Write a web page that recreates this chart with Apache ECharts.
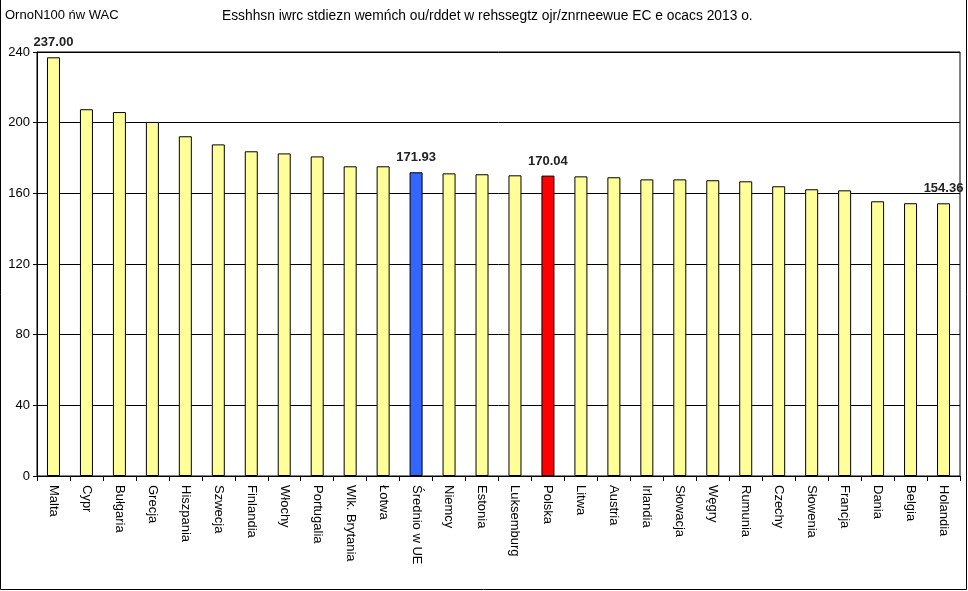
<!DOCTYPE html>
<html><head><meta charset="utf-8">
<script src="https://cdn.jsdelivr.net/npm/echarts@6/dist/echarts.min.js"></script>
<style>html,body{margin:0;padding:0;background:#fff}#c{width:968px;height:591px}</style>
</head><body><div id="c"></div>
<script>
const categories = ["Malta","Cypr","Bułgaria","Grecja","Hiszpania","Szwecja","Finlandia","Włochy","Portugalia","Wlk. Brytania","Łotwa","Średnio w UE","Niemcy","Estonia","Luksemburg","Polska","Litwa","Austria","Irlandia","Słowacja","Węgry","Rumunia","Czechy","Słowenia","Francja","Dania","Belgia","Holandia"];
const values = [237.00,207.6,206.0,200.4,192.3,187.7,183.8,182.6,180.9,175.3,175.3,171.93,171.3,170.8,170.2,170.04,169.6,169.1,167.9,167.9,167.4,166.8,164.0,162.3,161.7,155.5,154.4,154.36];
const labelled = ["Malta","Średnio w UE","Polska","Holandia"];
const yTicks = [0,40,80,120,160,200,240];
const titleText = "Esshhsn iwrc stdiezn wemńch ou/rddet w rehssegtz ojr/znrneewue EC e ocacs 2013 o.";
const unitText = "OrnoN100 ńw WAC";

const colorFor = c => c === "Średnio w UE" ? "#3366FF" : (c === "Polska" ? "#FF0000" : "#FFFF99");
const data = values.map((v,i) => ({
  value: v,
  itemStyle: {color: colorFor(categories[i]), borderColor: "#000", borderWidth: 1},
  label: {show: labelled.includes(categories[i])}
}));

const chart = echarts.init(document.getElementById('c'));
chart.setOption({
  animation: false,
  textStyle: {fontFamily: "Liberation Sans, Arial, sans-serif"},
  title: [
    {text: unitText, left: 0, top: 4, textStyle: {fontSize: 13, fontWeight: "normal", color: "#000"}},
    {text: titleText, left: 217, top: 4, textStyle: {fontSize: 13.8, fontWeight: "normal", color: "#000"}}
  ],
  grid: {left: 37, right: 8, top: 52, bottom: 115, containLabel: false, show: true, borderColor: "#000", borderWidth: 1},
  xAxis: {
    type: "category", data: categories,
    axisLine: {lineStyle: {color: "#000"}},
    axisTick: {show: true, length: 5, lineStyle: {color: "#000"}},
    axisLabel: {rotate: -90, fontSize: 13, color: "#000", margin: 9, interval: 0}
  },
  yAxis: {
    type: "value", min: yTicks[0], max: yTicks[yTicks.length-1], interval: 40,
    axisLine: {show: true, lineStyle: {color: "#000"}},
    axisTick: {show: true, length: 4, lineStyle: {color: "#000"}},
    axisLabel: {fontSize: 13, color: "#000", margin: 7},
    splitLine: {show: true, lineStyle: {color: "#000", width: 1}}
  },
  series: [{
    type: "bar", data: data, barWidth: 13,
    label: {position: "top", distance: 8, fontSize: 13, fontWeight: "bold", color: "#222",
      formatter: p => p.value.toFixed(2)}
  }],
  graphic: [{
    type: "polyline", shape: {points: [[0.5,0],[0.5,589.5],[966.5,589.5],[966.5,0]]},
    style: {stroke: "#000", lineWidth: 1, fill: null}
  }]
});
</script></body></html>
